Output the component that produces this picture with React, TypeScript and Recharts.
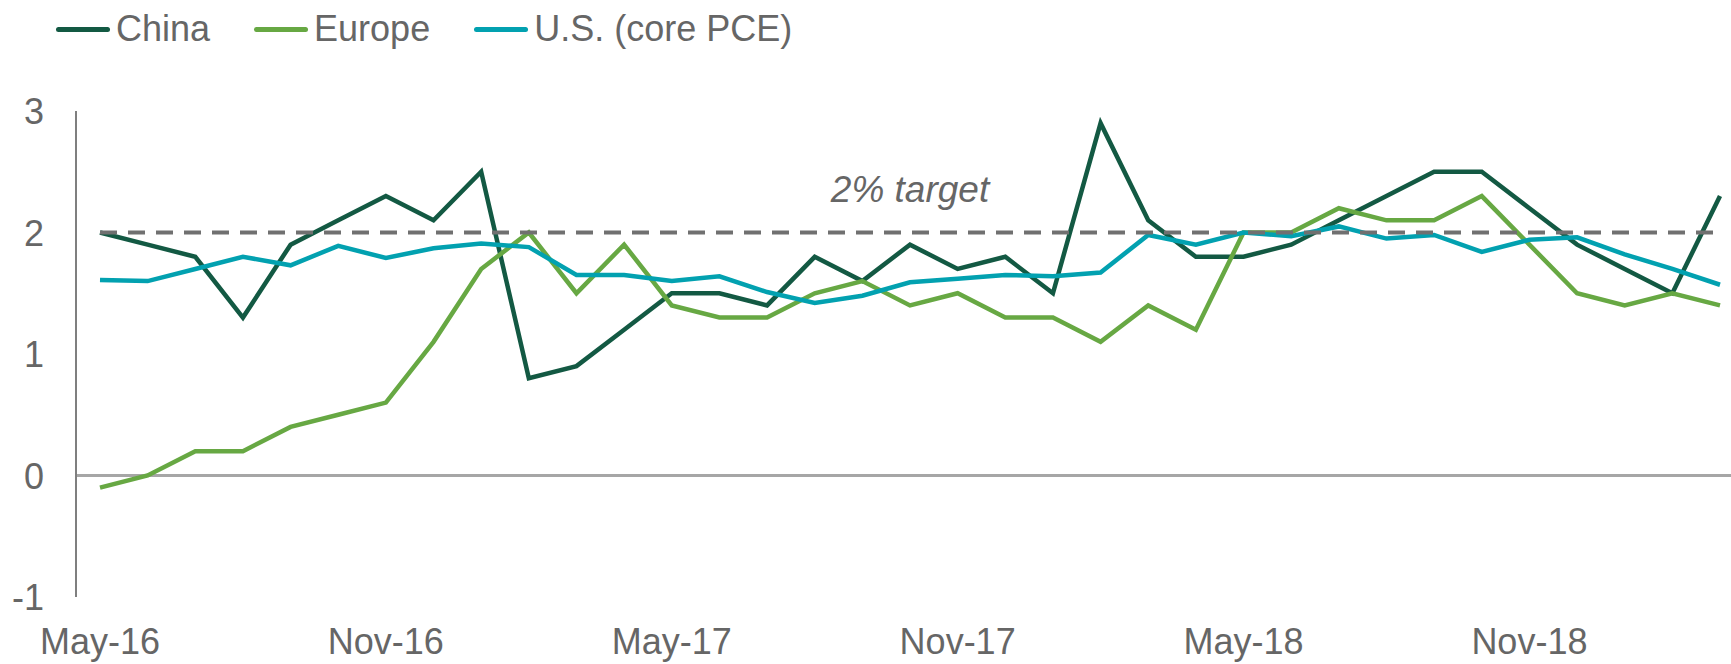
import { LineChart, Line, XAxis, YAxis, ReferenceLine } from 'recharts';

const months = [
  'May-16', 'Jun-16', 'Jul-16', 'Aug-16', 'Sep-16', 'Oct-16', 'Nov-16', 'Dec-16',
  'Jan-17', 'Feb-17', 'Mar-17', 'Apr-17', 'May-17', 'Jun-17', 'Jul-17', 'Aug-17',
  'Sep-17', 'Oct-17', 'Nov-17', 'Dec-17', 'Jan-18', 'Feb-18', 'Mar-18', 'Apr-18',
  'May-18', 'Jun-18', 'Jul-18', 'Aug-18', 'Sep-18', 'Oct-18', 'Nov-18', 'Dec-18',
  'Jan-19', 'Feb-19', 'Mar-19',
];

const china = [
  2.0, 1.9, 1.8, 1.3, 1.9, 2.1, 2.3, 2.1, 2.5, 0.8, 0.9,
  1.2, 1.5, 1.5, 1.4, 1.8, 1.6, 1.9, 1.7, 1.8, 1.5, 2.9, 2.1, 1.8,
  1.8, 1.9, 2.1, 2.3, 2.5, 2.5, 2.2, 1.9, 1.7, 1.5, 2.3,
];

const europe = [
  -0.1, 0.0, 0.2, 0.2, 0.4, 0.5, 0.6, 1.1, 1.7, 2.0, 1.5,
  1.9, 1.4, 1.3, 1.3, 1.5, 1.6, 1.4, 1.5, 1.3, 1.3, 1.1, 1.4, 1.2,
  2.0, 2.0, 2.2, 2.1, 2.1, 2.3, 1.9, 1.5, 1.4, 1.5, 1.4,
];

const usCorePce = [
  1.61, 1.60, 1.70, 1.80, 1.73, 1.89, 1.79, 1.87, 1.91, 1.88, 1.65,
  1.65, 1.60, 1.64, 1.51, 1.42, 1.48, 1.59, 1.62, 1.65, 1.64, 1.67, 1.98, 1.90,
  2.00, 1.97, 2.05, 1.95, 1.98, 1.84, 1.94, 1.96, 1.82, 1.70, 1.57,
];

const yTicks = [-1, 0, 1, 2, 3];
const target = 2;

const series = [
  { key: 'china', name: 'China', color: '#135943' },
  { key: 'europe', name: 'Europe', color: '#67A843' },
  { key: 'us', name: 'U.S. (core PCE)', color: '#02A1B0' },
];

const data = months.map((m, i) => ({
  month: m,
  china: china[i],
  europe: europe[i],
  us: usCorePce[i],
}));

const FONT = '"Liberation Sans", Arial, sans-serif';
const TEXT = '#666666';

function XTick({ x, payload }: any) {
  return (
    <text x={x} y={654} textAnchor="middle" fill={TEXT} fontSize={36} fontFamily={FONT}>
      {payload.value}
    </text>
  );
}

function YTick({ y, payload }: any) {
  return (
    <text x={44} y={y} dy={13} textAnchor="end" fill={TEXT} fontSize={36} fontFamily={FONT}>
      {payload.value}
    </text>
  );
}

export default function App() {
  return (
    <div style={{ position: 'absolute', left: 0, top: 0, width: 1731, height: 664, background: '#fff', fontFamily: FONT }}>
      {/* Legend */}
      <div style={{ position: 'absolute', left: 56, top: 11, display: 'flex', gap: 44, zIndex: 1 }}>
        {series.map(s => (
          <div key={s.key} style={{ display: 'flex', alignItems: 'center', height: 36 }}>
            <span style={{ width: 54, height: 5, borderRadius: 3, background: s.color, marginRight: 6 }} />
            <span style={{ fontSize: 36, lineHeight: '36px', color: TEXT }}>{s.name}</span>
          </div>
        ))}
      </div>

      <LineChart width={1731} height={664} data={data} margin={{ top: 111, right: 0, bottom: 0, left: 0 }}>
        <XAxis
          dataKey="month"
          interval={5}
          padding={{ left: 24, right: 11 }}
          axisLine={false}
          tickLine={false}
          height={67}
          tick={<XTick />}
        />
        <YAxis
          domain={[-1, 3]}
          ticks={yTicks}
          width={76}
          axisLine={{ stroke: '#7f7f7f', strokeWidth: 2 }}
          tickLine={false}
          tick={<YTick />}
        />
        <ReferenceLine y={0} stroke="#A6A6A6" strokeWidth={3} />
        {series.map(s => (
          <Line
            key={s.key}
            dataKey={s.key}
            name={s.name}
            stroke={s.color}
            strokeWidth={4.5}
            dot={false}
            activeDot={false}
            isAnimationActive={false}
          />
        ))}
        <ReferenceLine
          segment={[{ x: months[0], y: target }, { x: months[months.length - 1], y: target }]}
          stroke="#707070"
          strokeWidth={4}
          strokeDasharray="17 11"
          label={{
            value: '2% target',
            position: 'top',
            offset: 31,
            fill: TEXT,
            fontSize: 37,
            fontStyle: 'italic',
            fontFamily: FONT,
          }}
        />
      </LineChart>
    </div>
  );
}
